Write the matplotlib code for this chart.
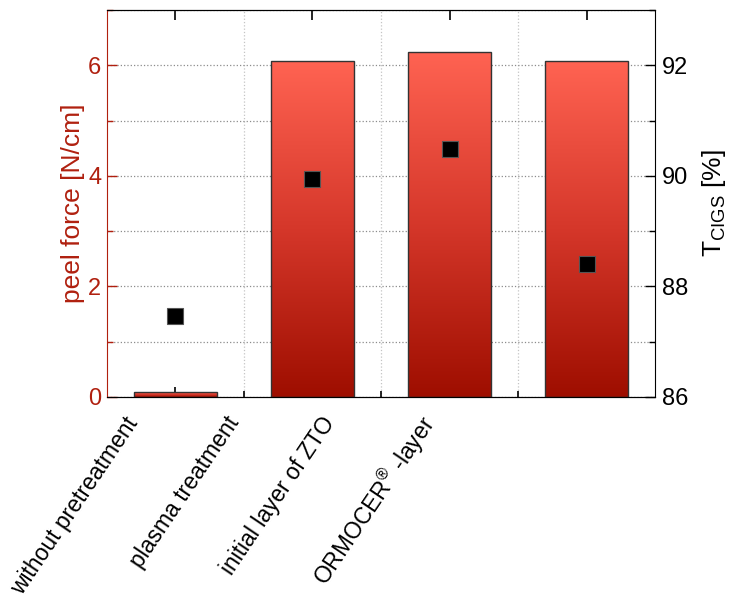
import numpy as np
import matplotlib
matplotlib.use('Agg')
from matplotlib import pyplot as plt
from matplotlib.colors import LinearSegmentedColormap
from matplotlib.transforms import ScaledTranslation
from matplotlib.ticker import MultipleLocator, FixedLocator

plt.rcParams['font.family'] = ['Liberation Sans', 'DejaVu Sans']
plt.rcParams['mathtext.fontset'] = 'custom'
plt.rcParams['mathtext.rm'] = 'Liberation Sans'
plt.rcParams['mathtext.it'] = 'Liberation Sans:italic'

# peel test + transmission data per pretreatment
treatments = ['without pretreatment', 'plasma treatment', 'initial layer of ZTO', 'ORMOCER$^{®}$ -layer']
peel_force = [0.08, 6.07, 6.24, 6.07]      # N/cm
t_cigs = [87.46, 89.95, 90.48, 88.40]      # %

red = '#B0200F'
grad = LinearSegmentedColormap.from_list('redgrad', ['#9E0E00', '#D5372A', '#FF6352'])

fig = plt.figure(figsize=(7.32, 5.94), dpi=100)
ax = fig.add_axes([0.146, 0.332, 0.749, 0.651])
x = np.arange(len(treatments))

bars = ax.bar(x, peel_force, width=0.6, color='none', edgecolor='#333333', linewidth=1.0, zorder=3)
g = np.linspace(0, 1, 256).reshape(-1, 1)
for b in bars:
    x0, y0 = b.get_x(), b.get_y()
    im = ax.imshow(g, cmap=grad, origin='lower', aspect='auto', zorder=2,
                   extent=(x0, x0 + b.get_width(), y0, y0 + b.get_height()))
    im.set_clip_path(b)

ax.set_xlim(-0.5, 3.5)
ax.set_ylim(0, 7)
ax.set_axisbelow(True)

ax.yaxis.set_major_locator(MultipleLocator(2))
ax.yaxis.set_minor_locator(MultipleLocator(1))
ax.xaxis.set_major_locator(FixedLocator(x))
ax.xaxis.set_minor_locator(FixedLocator([0.5, 1.5, 2.5]))
ax.grid(axis='y', which='both', linestyle=':', color='#8c8c8c', linewidth=0.9)
ax.grid(axis='x', which='minor', linestyle=':', color='#c4c4c4', linewidth=0.9)

ax.tick_params(axis='y', which='both', direction='in', colors=red, labelsize=17, pad=4)
ax.tick_params(axis='y', which='major', length=7, width=1)
ax.tick_params(axis='y', which='minor', length=4, width=1)
ax.tick_params(axis='x', which='major', direction='in', top=True, length=7, width=1.2,
               labelsize=16.5, pad=16)
ax.tick_params(axis='x', which='minor', direction='in', top=False, length=4, width=1.2)
ax.spines['left'].set_color(red)
ax.spines['right'].set_visible(False)
ax.set_ylabel('peel force [N/cm]', color=red, fontsize=19, labelpad=2)

ax.set_xticks(x)
ax.set_xticklabels(treatments, rotation=56, ha='right', va='center', rotation_mode='anchor')
shifts = [-30, -56, -86, -113]
for lab, dx in zip(ax.get_xticklabels(), shifts):
    lab.set_transform(lab.get_transform() + ScaledTranslation(dx / 72, 0, fig.dpi_scale_trans))

ax2 = ax.twinx()
ax2.plot(x, t_cigs, linestyle='none', marker='s', markersize=11.5, color='black',
         markeredgecolor='#555555', markeredgewidth=0.8, zorder=5)
ax2.set_ylim(86, 93)
ax2.yaxis.set_major_locator(MultipleLocator(2))
ax2.yaxis.set_minor_locator(MultipleLocator(1))
ax2.tick_params(axis='y', which='both', direction='in', labelsize=17, pad=5)
ax2.tick_params(axis='y', which='major', length=7, width=1)
ax2.tick_params(axis='y', which='minor', length=4, width=1)
ax2.spines['left'].set_visible(False)
ax2.set_ylabel(r'T$_{\mathrm{CIGS}}$ [%]', fontsize=19, labelpad=8)

fig.savefig('out.png', dpi=100)
